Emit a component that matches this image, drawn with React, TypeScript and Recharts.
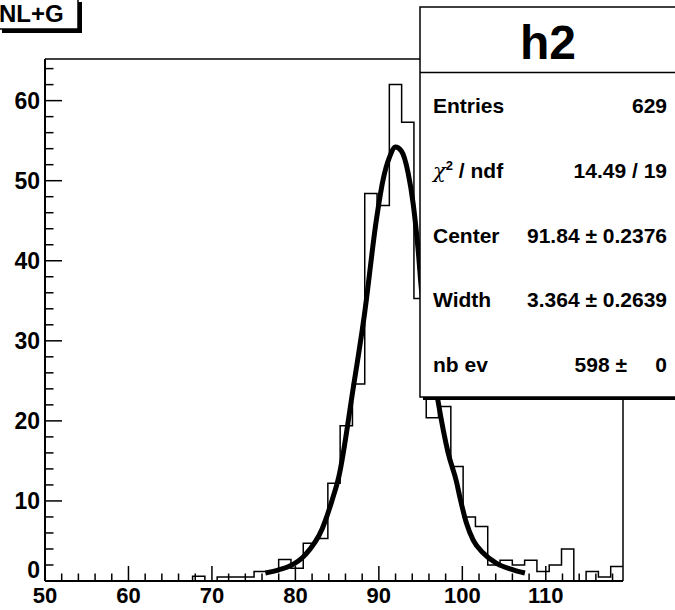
import { ComposedChart, Line, XAxis, YAxis, ReferenceLine } from "recharts";

const X_MIN = 50;
const X_MAX = 119.25;
const Y_MAX = 65.2;

// histogram h2: 47 bins between X_MIN and X_MAX
const binCounts = [
  0, 0, 0, 0, 0, 0, 0, 0, 0, 0, 0, 0,
  0.6, 0, 0.5, 0.5, 0.5, 1.2, 1.2, 2.7, 1.6, 4.7, 5.3, 12.2,
  19.4, 24.6, 48.4, 46.9, 62, 57.3, 35.3, 20.4, 21.8, 14.3, 8, 6.8,
  2, 2.6, 2, 2.6, 1.2, 2, 4, 0, 1.2, 0.5, 1.8,
];

// fitted curve
const fitX = [76.4, 78.0, 79.2, 81.2, 83.2, 84.4, 85.2, 86.9, 88.3, 89.7, 90.5, 91.3, 92.0, 92.7, 93.5, 94.1, 94.7, 95.1, 96.0, 97.1, 98.3, 99.3, 99.7, 100.5, 101.3, 102.5, 104.1, 106.1, 107.5];
const fitY = [1.0, 1.4, 1.8, 3.3, 6.5, 10.1, 13.0, 23.9, 33.5, 45.1, 50.1, 53.0, 54.2, 53.7, 51.0, 47.2, 41.4, 36.4, 30.0, 22.4, 16.0, 12.4, 10.5, 7.2, 5.1, 3.5, 2.2, 1.4, 1.0];

const xLabels = [50, 60, 70, 80, 90, 100, 110];
const yLabels = [0, 10, 20, 30, 40, 50, 60];

const statsRows = [
  ["Entries", "629"],
  ["chi2", "14.49 / 19"],
  ["Center", "91.84 ± 0.2376"],
  ["Width", "3.364 ± 0.2639"],
  ["nb ev", "598 ±"],
];

const FONT = '"Liberation Sans", Arial, Helvetica, sans-serif';

const binWidth = (X_MAX - X_MIN) / binCounts.length;
const histData = binCounts.map((c, i) => ({ x: X_MIN + i * binWidth, y: c }));
histData.push({ x: X_MAX, y: binCounts[binCounts.length - 1] });
const fitData = fitX.map((x, i) => ({ x, y: fitY[i] }));

// minor ticks every 2 units
const xTicks: number[] = [];
for (let v = X_MIN; v <= X_MAX; v += 2) xTicks.push(v);
const yTicks: number[] = [];
for (let v = 0; v <= Y_MAX; v += 2) yTicks.push(v);

function YTick(props: any) {
  const { x, y, payload } = props;
  const major = yLabels.includes(payload.value);
  // the "0" sits a bit higher so it does not run into the "50" below it
  const dy = payload.value === 0 ? -3 : 8;
  return (
    <g>
      <line x1={x} x2={x + (major ? 17 : 8.5)} y1={y} y2={y} stroke="#000" strokeWidth={1.5} />
      {major && (
        <text x={x - 5} y={y + dy} textAnchor="end" fontFamily={FONT} fontWeight="bold" fontSize={23} fill="#000">
          {payload.value}
        </text>
      )}
    </g>
  );
}

function XTick(props: any) {
  const { x, y, payload } = props;
  const major = xLabels.includes(payload.value);
  return (
    <g>
      <line x1={x} x2={x} y1={y} y2={y - (major ? 15 : 7.5)} stroke="#000" strokeWidth={1.5} />
      {major && (
        <text x={x} y={y + 22} textAnchor="middle" fontFamily={FONT} fontWeight="bold" fontSize={22} fill="#000">
          {payload.value}
        </text>
      )}
    </g>
  );
}

function Overlay() {
  const rowY = [113, 178, 243, 307, 372];
  return (
    <svg width={675} height={610} style={{ position: "absolute", left: 0, top: 0, pointerEvents: "none" }}>
      {/* title pave */}
      <rect x={2} y={2} width={80} height={31} fill="#000" />
      <rect x={-2} y={-2} width={80} height={31} fill="#fff" stroke="#000" strokeWidth={1.5} />
      <text x={-1} y={22} fontFamily={FONT} fontWeight="bold" fontSize={24} fill="#000">NL+G</text>

      {/* stats box */}
      <rect x={423} y={10} width={300} height={390} fill="#000" />
      <rect x={420} y={7} width={300} height={390} fill="#fff" stroke="#000" strokeWidth={1.5} />
      <line x1={420} x2={675} y1={72.5} y2={72.5} stroke="#000" strokeWidth={1.5} />
      <text x={548} y={59} textAnchor="middle" fontFamily={FONT} fontWeight="bold" fontSize={48} fill="#000">h2</text>
      {statsRows.map(([label, value], i) => (
        <g key={label}>
          {label === "chi2" ? (
            <text x={433} y={rowY[i]} fontFamily={FONT} fontWeight="bold" fontSize={21} fill="#000">
              <tspan fontFamily='"DejaVu Serif", serif' fontWeight="normal" fontStyle="italic">χ</tspan>
              <tspan dy={-8} fontSize={13}>2</tspan>
              <tspan dy={8}> / ndf</tspan>
            </text>
          ) : (
            <text x={433} y={rowY[i]} fontFamily={FONT} fontWeight="bold" fontSize={21} fill="#000">{label}</text>
          )}
          <text x={label === "nb ev" ? 627 : 667} y={rowY[i]} textAnchor="end" fontFamily={FONT} fontWeight="bold" fontSize={21} fill="#000">
            {value}
          </text>
        </g>
      ))}
      <text x={667} y={rowY[4]} textAnchor="end" fontFamily={FONT} fontWeight="bold" fontSize={21} fill="#000">0</text>
    </svg>
  );
}

export default function App() {
  return (
    <div style={{ position: "absolute", left: 0, top: 0, width: 675, height: 610, overflow: "hidden", background: "#fff" }}>
      <ComposedChart width={675} height={610} margin={{ top: 59, right: 52, bottom: 0, left: 0 }}>
        <XAxis
          type="number"
          dataKey="x"
          domain={[X_MIN, X_MAX]}
          allowDataOverflow
          ticks={xTicks}
          interval={0}
          height={29}
          tickSize={0}
          tickMargin={0}
          tickLine={false}
          axisLine={{ stroke: "#000", strokeWidth: 2 }}
          tick={<XTick />}
        />
        <YAxis
          type="number"
          dataKey="y"
          domain={[0, Y_MAX]}
          allowDataOverflow
          ticks={yTicks}
          interval={0}
          width={45}
          tickSize={0}
          tickMargin={0}
          tickLine={false}
          axisLine={{ stroke: "#000", strokeWidth: 2 }}
          tick={<YTick />}
        />
        <ReferenceLine y={Y_MAX} stroke="#000" strokeWidth={1.5} />
        <ReferenceLine x={X_MAX} stroke="#000" strokeWidth={1.5} />
        <Line
          data={histData}
          dataKey="y"
          type="stepAfter"
          stroke="#000"
          strokeWidth={1.5}
          dot={false}
          isAnimationActive={false}
        />
        <Line
          data={fitData}
          dataKey="y"
          type="monotone"
          stroke="#000"
          strokeWidth={5}
          dot={false}
          isAnimationActive={false}
        />
      </ComposedChart>
      <Overlay />
    </div>
  );
}
